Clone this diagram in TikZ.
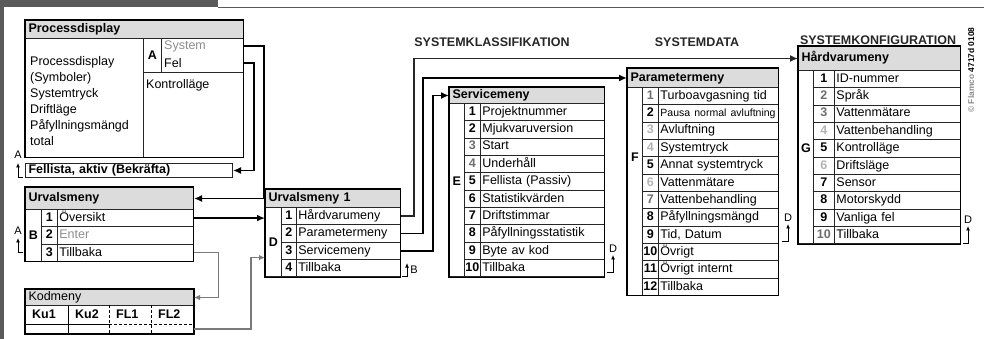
\documentclass[tikz,border=0pt]{standalone}
\usepackage{fontspec}
\setmainfont{Liberation Sans}
\usetikzlibrary{arrows.meta}
\definecolor{hdgray}{HTML}{DCDCDC}
\definecolor{ltgray}{HTML}{B4B4B4}
\definecolor{mdgray}{HTML}{6E6E6E}
\definecolor{txtgray}{HTML}{8C8C8C}
\definecolor{framegray}{HTML}{5A5A5A}
\definecolor{linkgray}{HTML}{7A7A7A}
\newcommand\rowsize{\fontsize{12.5}{15}\selectfont}
\tikzset{
  cell/.style={draw=black!85, line width=0.8pt, anchor=north west, inner sep=0pt},
  numcell/.style={cell, minimum width=#1, minimum height=17.34pt, font=\rowsize\bfseries, text height=9pt, text depth=2.5pt},
  txtcell/.style={cell, minimum height=17.34pt, inner xsep=2pt, text width=#1, align=left, font=\rowsize, text height=9pt, text depth=2.5pt},
  titlecell/.style={cell, fill=hdgray, line width=1pt, inner xsep=3pt, text width=#1, align=left, font=\rowsize\bfseries, text height=9pt, text depth=2.5pt},
  letter/.style={font=\rowsize\bfseries, inner sep=0pt},
  heading/.style={font=\rowsize\bfseries, text=black!85},
  marker/.style={font=\fontsize{11}{12}\selectfont, inner sep=0pt},
  link/.style={line width=1.8pt, -{Latex[length=8pt,width=7pt]}},
  glink/.style={draw=linkgray, line width=1.3pt, -{Latex[length=6pt,width=5.5pt]}},
  retarrow/.style={line width=0.9pt, -{Latex[length=4.5pt,width=4pt]}},
}
\begin{document}
\begin{tikzpicture}[x=1pt, y=-1pt]
  \useasboundingbox (0,0) rectangle (984,339);
  % frame
  \fill[framegray] (0,0) rectangle (218,7);
  \fill[framegray] (0,0) rectangle (4,339);
  \draw[framegray, line width=0.8pt] (218,7) -- (984,7);
  % headings
  \node[heading] (hdk) at (492,42) {SYSTEMKLASSIFIKATION};
  \node[heading] (hdd) at (697,42.5) {SYSTEMDATA};
  \node[heading] (hdc) at (878,40.5) {SYSTEMKONFIGURATION};
  \node[rotate=90, font=\fontsize{8.4}{10}\selectfont\bfseries, text=txtgray] (copy) at (971,70) {\copyright\ Flamco \textcolor{black}{4717d 0108}};

  % Processdisplay
  \node[titlecell=212pt, minimum height=18pt] (pd) at (25,20) {Processdisplay};
  \node[cell, minimum width=118pt, minimum height=119pt] (pdl) at (25,38) {};
  \node[anchor=west, align=left, font=\fontsize{12.5}{16}\selectfont, inner sep=0pt] (pdtxt) at (30,101) {Processdisplay\\(Symboler)\\Systemtryck\\Driftläge\\Påfyllningsmängd\\total};
  \node[cell, letter, minimum width=18pt, minimum height=34pt] (pda) at (143,38) {A};
  \node[cell, minimum width=82pt, minimum height=34pt] (pdsf) at (161,38) {};
  \node[anchor=west, font=\rowsize, text=txtgray, inner sep=0pt] (pdsys) at (164,46) {System};
  \node[anchor=west, font=\rowsize, inner sep=0pt] (pdfel) at (164,63) {Fel};
  \node[cell, minimum width=100pt, minimum height=85pt] (pdk) at (143,72) {};
  \node[anchor=north west, font=\rowsize, inner sep=0pt] (pdkt) at (146,79.5) {Kontrolläge};
  \node[cell, line width=1pt, minimum width=207pt, minimum height=14pt, inner xsep=3pt, text width=201pt, align=left, font=\rowsize\bfseries, text height=9pt, text depth=2.5pt] (fl) at (25,163) {Fellista, aktiv (Bekräfta)};

  % Urvalsmeny
  \node[titlecell=162pt, minimum height=22pt] (um) at (25,187) {Urvalsmeny};
  \node[cell, letter, minimum width=16pt, minimum height=52.02pt] (umB) at (25,209) {B};
  \foreach \i/\t in {1/Översikt, 2/{\textcolor{txtgray}{Enter}}, 3/Tillbaka} {
    \node[numcell=16pt] (um-n\i) at (41,{209+(\i-1)*17.34}) {\i};
    \node[txtcell=132pt] (um-\i) at (57,{209+(\i-1)*17.34}) {\t};
  }

  % Kodmeny
  \node[titlecell=162pt, minimum height=16pt, font=\rowsize] (km) at (25,289) {Kodmeny};
  \node[cell, line width=1pt, minimum width=168pt, minimum height=28pt] (kmb) at (25,305) {};
  \foreach \x/\t [count=\k] in {25/Ku1, 68/Ku2, 109/FL1, 151/FL2}
    \node[anchor=west, inner sep=0pt, font=\rowsize\bfseries] (km-\k) at (\x+7,314.5) {\t};
  \draw[line width=0.8pt] (68,305) -- (68,333) (25,324) -- (109,324);
  \draw[line width=0.8pt, dash pattern=on 3pt off 2pt] (109,305) -- (109,333) (151,305) -- (151,333) (109,324) -- (193,324);

  % Urvalsmeny 1
  \node[titlecell=129pt, minimum height=18pt] (u1) at (265,189) {Urvalsmeny 1};
  \node[cell, letter, minimum width=16pt, minimum height=69.36pt] (u1D) at (265,207) {D};
  \foreach \i/\t in {1/Hårdvarumeny, 2/Parametermeny, 3/Servicemeny, 4/Tillbaka} {
    \node[numcell=15pt] (u1-n\i) at (281,{207+(\i-1)*17.34}) {\i};
    \node[txtcell=100pt] (u1-\i) at (296,{207+(\i-1)*17.34}) {\t};
  }

  % Servicemeny
  \node[titlecell=149pt, minimum height=16pt] (sm) at (449,87) {Servicemeny};
  \node[cell, minimum width=15pt, minimum height=173.4pt] (smE) at (449,103) {};
  \foreach \i/\nc/\t in {1/black/Projektnummer, 2/black/Mjukvaruversion, 3/mdgray/Start, 4/mdgray/Underhåll,
      5/black/Fellista (Passiv), 6/black/Statistikvärden, 7/black/Driftstimmar,
      8/black/Påfyllningsstatistik, 9/black/Byte av kod, 10/black/Tillbaka} {
    \node[numcell=16pt, text=\nc] (sm-n\i) at (464,{103+(\i-1)*17.34}) {\i};
    \node[txtcell=120pt] (sm-\i) at (480,{103+(\i-1)*17.34}) {\t};
  }
  \node[letter] (smEl) at (smE.center |- sm-5.center) {E};

  % Parametermeny
  \node[titlecell=145pt, minimum height=19pt] (pm) at (627,68) {Parametermeny};
  \node[cell, minimum width=15pt, minimum height=208.08pt] (pmF) at (627,87) {};
  \foreach \i/\nc/\t in {1/mdgray/Turboavgasning tid, 2/black/{\fontsize{10.5}{12}\selectfont Pausa normal avluftning},
      3/ltgray/Avluftning, 4/ltgray/Systemtryck, 5/black/Annat systemtryck, 6/ltgray/Vattenmätare,
      7/mdgray/Vattenbehandling, 8/black/Påfyllningsmängd, 9/black/{Tid, Datum}, 10/black/Övrigt,
      11/black/Övrigt internt, 12/black/Tillbaka} {
    \node[numcell=16pt, text=\nc] (pm-n\i) at (642,{87+(\i-1)*17.34}) {\i};
    \node[txtcell=116pt] (pm-\i) at (658,{87+(\i-1)*17.34}) {\t};
  }
  \node[letter] (pmFl) at (pmF.center |- pm-4.south) {F};

  % Hårdvarumeny
  \node[titlecell=156pt, minimum height=24pt] (hw) at (798,46) {Hårdvarumeny};
  \node[cell, minimum width=15pt, minimum height=173.4pt] (hwG) at (798,70) {};
  \foreach \i/\nc/\t in {1/black/ID-nummer, 2/mdgray/Språk, 3/mdgray/Vattenmätare, 4/ltgray/Vattenbehandling,
      5/black/Kontrolläge, 6/ltgray/Driftsläge, 7/black/Sensor, 8/black/Motorskydd,
      9/black/Vanliga fel, 10/mdgray/Tillbaka} {
    \node[numcell=21pt, text=\nc] (hw-n\i) at (813,{70+(\i-1)*17.34}) {\i};
    \node[txtcell=122pt] (hw-\i) at (834,{70+(\i-1)*17.34}) {\t};
  }
  \node[letter] (hwGl) at (hwG.center |- hw-5.center) {G};

  % outer borders
  \foreach \a/\b in {pd/pdk, um/um-3, km/kmb, u1/u1-4, sm/sm-10, pm/pm-12, hw/hw-10}
    \draw[line width=1.2pt] (\a.north west) rectangle (\b.south east);

  % links
  \draw[link] (pdsys.east -| pdsf.east) -- ++(20,0) |- (um.east);
  \draw[link] (pdfel.east -| pdsf.east) -- ++(10,0) |- (fl.east);
  \draw[link] (um-1.east) -- (um-1.east -| u1D.west);
  \draw[glink] (um-3.east) -- ++(25,0) |- (km.east);
  \draw[glink] ([yshift=-9.5pt]kmb.east) -- ++(57,0) |- ([yshift=-15.5pt]u1D.west);
  \draw[link, draw=black!85] (u1-1.east) -- ++(13,0) |- (hw.west);
  \draw[link] (u1-2.east) -- ++(22,0) |- (pm.west);
  \draw[link] (u1-3.east) -- ++(32,0) |- (sm.west);

  % return markers
  \node[marker] (retA1) at (18,155) {A};
  \coordinate (retA1s) at (23,177);
  \draw[retarrow] (retA1s) -| ([yshift=-4pt]retA1.south);
  \node[marker] (retA2) at (18,231) {A};
  \coordinate (retA2s) at (23,252);
  \draw[retarrow] (retA2s) -| ([yshift=-3pt]retA2.south);
  \node[marker] (retB) at (414,270) {B};
  \coordinate (retBs) at (402,276);
  \coordinate (retBt) at (407,263);
  \draw[retarrow] (retBs) -| (retBt);
  \foreach \n/\x/\y/\s in {retD1/613/249/607, retD2/788/218/782, retD3/968/220/963} {
    \node[marker] (\n) at (\x,\y) {D};
    \coordinate (\n s) at (\s,{\y+23});
    \draw[retarrow] (\n s) -| ([yshift=-2pt]\n.south);
  }
\end{tikzpicture}
\end{document}
